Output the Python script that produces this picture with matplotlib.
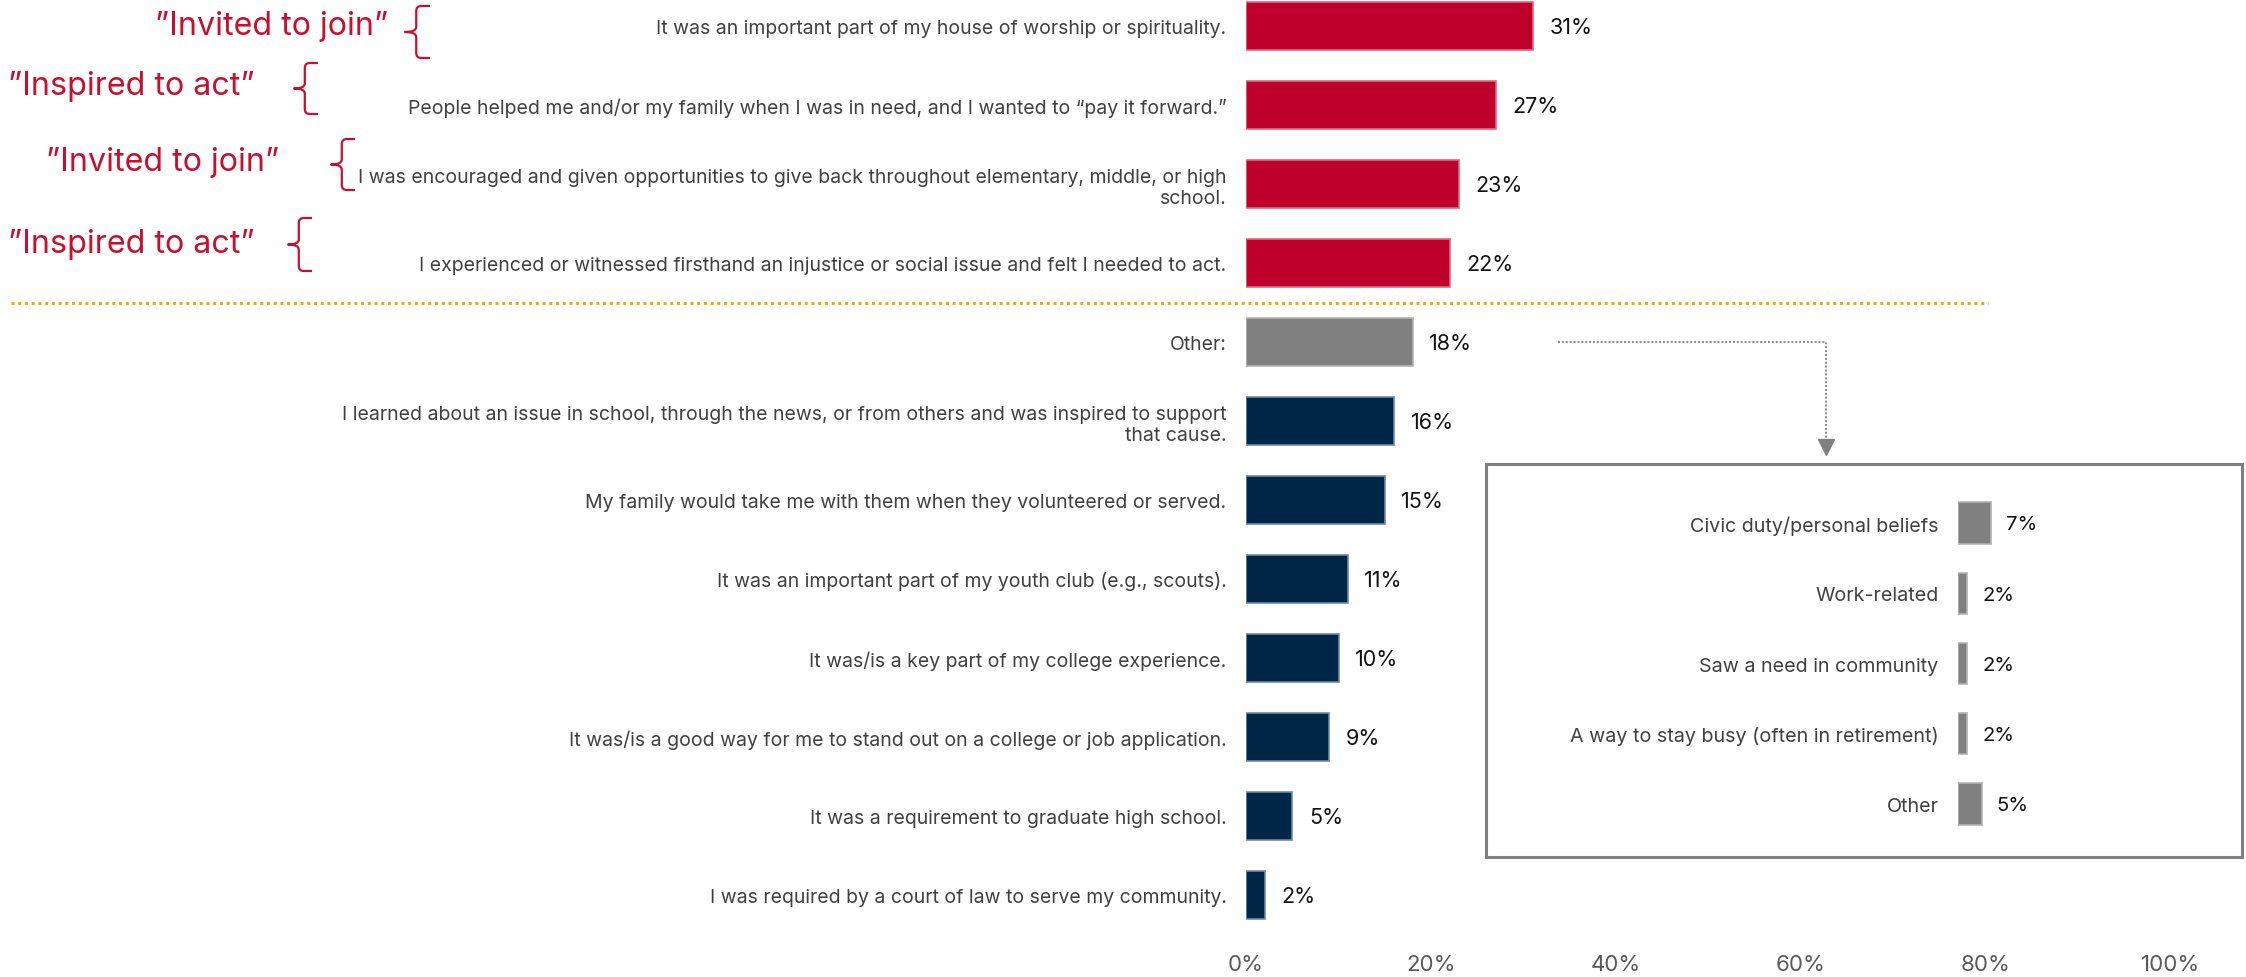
import matplotlib
matplotlib.use("Agg")
import matplotlib.pyplot as plt
from matplotlib.path import Path
from matplotlib.patches import PathPatch, Rectangle
from matplotlib.transforms import blended_transform_factory

plt.rcParams['font.family'] = ['Inter', 'DejaVu Sans']

# ---- data -------------------------------------------------------------
categories = [
    "It was an important part of my house of worship or spirituality.",
    "People helped me and/or my family when I was in need, and I wanted to \u201cpay it forward.\u201d",
    "I was encouraged and given opportunities to give back throughout elementary, middle, or high\nschool.",
    "I experienced or witnessed firsthand an injustice or social issue and felt I needed to act.",
    "Other:",
    "I learned about an issue in school, through the news, or from others and was inspired to support\nthat cause.",
    "My family would take me with them when they volunteered or served.",
    "It was an important part of my youth club (e.g., scouts).",
    "It was/is a key part of my college experience.",
    "It was/is a good way for me to stand out on a college or job application.",
    "It was a requirement to graduate high school.",
    "I was required by a court of law to serve my community.",
]
values = [31, 27, 23, 22, 18, 16, 15, 11, 10, 9, 5, 2]
groups = ["top", "top", "top", "top", "other",
          "rest", "rest", "rest", "rest", "rest", "rest", "rest"]

other_categories = [
    "Civic duty/personal beliefs",
    "Work-related",
    "Saw a need in community",
    "A way to stay busy (often in retirement)",
    "Other",
]
other_values = [7, 2, 2, 2, 5]

bracket_labels = ["\u201dInvited to join\u201d", "\u201dInspired to act\u201d",
                  "\u201dInvited to join\u201d", "\u201dInspired to act\u201d"]

x_ticks = [0, 20, 40, 60, 80, 100]

# ---- styling ----------------------------------------------------------
fill = {"top": "#BF002A", "other": "#808080", "rest": "#002647"}
edge = {"top": "#DB6B80", "other": "#B3B3B3", "rest": "#6F8AA3"}
LABEL_C = "#404040"
ANNOT_RED = "#C8102E"

W, H = 2246, 978
fig = plt.figure(figsize=(W / 100, H / 100), dpi=100)


def px_box(left, top, right, bottom):
    return [left / W, 1 - bottom / H, (right - left) / W, (bottom - top) / H]


# ---- main bar chart ---------------------------------------------------
ax = fig.add_axes(px_box(1246, 0, 2171, 940))
rows = list(range(len(values)))
ax.barh(rows, values, height=0.6,
        color=[fill[g] for g in groups],
        edgecolor=[edge[g] for g in groups], linewidth=1.2)
row_px = 79.0
ax.set_ylim((940 - 27) / row_px, -27 / row_px)
ax.set_xlim(0, 100)
ax.set_yticks(rows)
ax.set_yticklabels(categories, fontsize=14.0, color=LABEL_C, linespacing=1.2)
ax.set_xticks(x_ticks)
ax.set_xticklabels([f"{t}%" for t in x_ticks], fontsize=16, color="#595959")
ax.tick_params(axis="y", length=0, pad=14)
ax.tick_params(axis="x", length=0, pad=11)
for s in ax.spines.values():
    s.set_visible(False)

for r, v in zip(rows, values):
    ax.annotate(f"{v}%", (v, r), xytext=(12, -1), textcoords="offset points",
                va="center", ha="left", fontsize=15.5, color="#111111")

# dotted separator between the highlighted group and the rest
sep = blended_transform_factory(fig.transFigure, ax.transData)
ax.plot([11 / W, 1988 / W], [3.5, 3.5], transform=sep, clip_on=False,
        color="#F2A900", linestyle=(0, (1, 1.2)), linewidth=2.2)

# connector from the "Other" bar to the breakdown panel
ax.plot([33.7, 62.7, 62.7], [4.0, 4.0, 5.25], color="#8C8C8C",
        linestyle=(0, (1, 1)), linewidth=1.4, clip_on=False)
ax.plot([62.7], [5.33], marker="v", markersize=11, color="#808080",
        clip_on=False)

# ---- breakdown panel --------------------------------------------------
fig.patches.append(Rectangle((1486 / W, 1 - 858 / H), (2242 - 1486) / W,
                             (858 - 465) / H, transform=fig.transFigure,
                             fill=False, edgecolor="#7F7F7F", linewidth=2.2))

ax2 = fig.add_axes(px_box(1958, 489, 2258, 840))
orows = list(range(len(other_values)))
ax2.barh(orows, other_values, height=0.59, color="#808080",
         edgecolor="#B3B3B3", linewidth=1.2)
ax2.set_ylim(4.5, -0.5)
ax2.set_xlim(0, 300 / 4.7)
ax2.set_yticks(orows)
ax2.set_yticklabels(other_categories, fontsize=14.2, color=LABEL_C)
ax2.tick_params(axis="y", length=0, pad=14)
ax2.set_xticks([])
for s in ax2.spines.values():
    s.set_visible(False)
for r, v in zip(orows, other_values):
    ax2.annotate(f"{v}%", (v, r), xytext=(11, -1), textcoords="offset points",
                 va="center", ha="left", fontsize=14.5, color="#111111")

# ---- motivation brackets ---------------------------------------------
over = fig.add_axes([0, 0, 1, 1])
over.set_xlim(0, W)
over.set_ylim(H, 0)
over.axis("off")

bracket_text = [(388, 26), (255, 87), (279, 162), (255, 244)]
bracket_span = [(405, 430, 7, 59), (294, 318, 64, 115),
                (331, 355, 140, 191), (288, 312, 219, 272)]


def brace(x0, x1, y0, y1):
    xv = x0 + 0.45 * (x1 - x0)
    ym = (y0 + y1) / 2
    r = 5
    verts = [(x1, y0), (xv + r, y0), (xv, y0), (xv, y0 + r),
             (xv, ym - r), (xv, ym), (x0, ym),
             (xv, ym), (xv, ym + r),
             (xv, y1 - r), (xv, y1), (xv + r, y1), (x1, y1)]
    codes = [Path.MOVETO, Path.LINETO, Path.CURVE3, Path.CURVE3,
             Path.LINETO, Path.CURVE3, Path.CURVE3,
             Path.CURVE3, Path.CURVE3,
             Path.LINETO, Path.CURVE3, Path.CURVE3, Path.LINETO]
    return PathPatch(Path(verts, codes), fill=False, edgecolor=ANNOT_RED,
                     linewidth=1.6, capstyle="butt", joinstyle="round")


for label, (tx, ty), span in zip(bracket_labels, bracket_text, bracket_span):
    over.text(tx, ty, label, ha="right", va="center", fontsize=23.2,
              color=ANNOT_RED)
    over.add_patch(brace(*span))

fig.savefig("out.png", dpi=100)
